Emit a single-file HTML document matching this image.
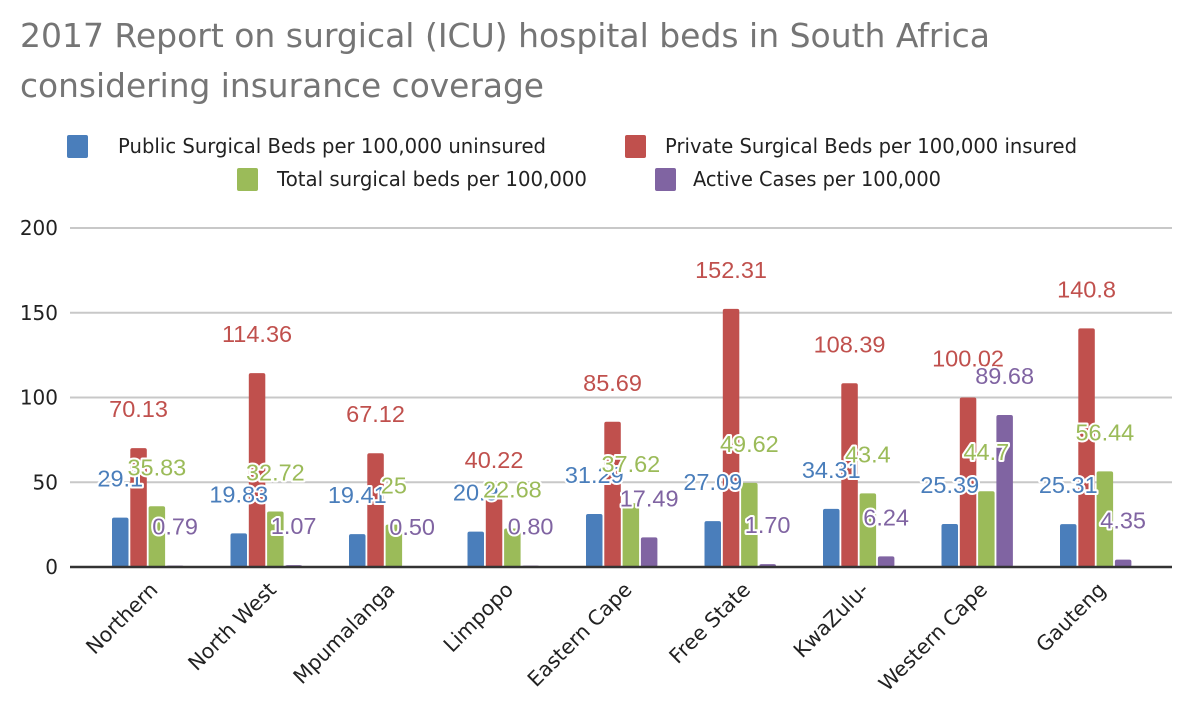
<!DOCTYPE html>
<html><head><meta charset="utf-8"><style>
body{margin:0;background:#fff;}
svg text{font-family:"Liberation Sans",sans-serif;}
.t{font-family:"DejaVu Sans","Liberation Sans",sans-serif;}
</style></head><body>
<svg id="c" width="1200" height="711" viewBox="0 0 1200 711" xmlns="http://www.w3.org/2000/svg">
<text x="20" y="47" font-size="33" fill="#757575" class="t" textLength="970" lengthAdjust="spacingAndGlyphs">2017 Report on surgical (ICU) hospital beds in South Africa</text>
<text x="20" y="97" font-size="33" fill="#757575" class="t" textLength="524" lengthAdjust="spacingAndGlyphs">considering insurance coverage</text>
<g id="legend"></g>
<g id="grid"></g>
<g id="bars"></g>
<g id="labels"></g>
<g id="xl"></g>
</svg>
<script>
const categories=["Northern","North West","Mpumalanga","Limpopo","Eastern Cape","Free State","KwaZulu-","Western Cape","Gauteng"];
const publicBeds=[29.1,19.83,19.41,20.9,31.29,27.09,34.31,25.39,25.31];
const privateBeds=[70.13,114.36,67.12,40.22,85.69,152.31,108.39,100.02,140.8];
const totalBeds=[35.83,32.72,25,22.68,37.62,49.62,43.4,44.7,56.44];
const activeCases=[0.79,1.07,0.50,0.80,17.49,1.70,6.24,89.68,4.35];
const publicLabels=["29.1","19.83","19.41","20.9","31.29","27.09","34.31","25.39","25.31"];
const privateLabels=["70.13","114.36","67.12","40.22","85.69","152.31","108.39","100.02","140.8"];
const totalLabels=["35.83","32.72","25","22.68","37.62","49.62","43.4","44.7","56.44"];
const activeLabels=["0.79","1.07","0.50","0.80","17.49","1.70","6.24","89.68","4.35"];
const yTicks=[0,50,100,150,200];
const seriesNames=["Public Surgical Beds per 100,000 uninsured","Private Surgical Beds per 100,000 insured","Total surgical beds per 100,000","Active Cases per 100,000"];
const colors=["#4a7ebb","#c0504d","#9bbb59","#8064a2"];
const labelColors=["#4a7ebb","#c0504d","#9bbb59","#8064a2"];
const NS="http://www.w3.org/2000/svg";
const y0=567,yTop=228,xL=70,xR=1172;
const y=v=>y0-(v/200)*(y0-yTop);
const groupC=i=>148+i*118.5;
const bw=16.5,gap=1.8;
function mk(tag,attrs,parent){const e=document.createElementNS(NS,tag);for(const k in attrs)e.setAttribute(k,attrs[k]);parent.appendChild(e);return e;}
const grid=document.getElementById('grid');
yTicks.forEach(t=>{
  if(t>0){const l=mk('line',{x1:xL,x2:xR,y1:y(t),y2:y(t),stroke:'#c8c8c8','stroke-width':2},grid);
  
  }
  const tx=mk('text',{x:58,y:y(t)+7,'text-anchor':'end','font-size':20,fill:'#222'},grid);
  tx.setAttribute('class','t');
  tx.textContent=t;
  
  
});
const series=[publicBeds,privateBeds,totalBeds,activeCases];
const labs=[publicLabels,privateLabels,totalLabels,activeLabels];
const bars=document.getElementById('bars'),lg=document.getElementById('labels');
categories.forEach((c,i)=>{
  series.forEach((s,j)=>{
    const x=groupC(i)-36+j*(bw+gap);
    const top=y(s[i]);
    const r=mk('rect',{x:x,y:top,width:bw,height:Math.max(y0-top,1),fill:colors[j],rx:2},bars);
    
    
    const t=mk('text',{x:x+bw/2,y:top-31,'text-anchor':'middle','font-size':23.5,fill:labelColors[j],stroke:'#fff','stroke-width':4,'paint-order':'stroke','stroke-linejoin':'round'},lg);
    t.textContent=labs[j][i];
    
    
  });
  const xt=mk('text',{'text-anchor':'end','font-size':20.5,fill:'#222',transform:`translate(${groupC(i)+11},${591}) rotate(-45)`},document.getElementById('xl'));
  xt.setAttribute('class','t');
  xt.textContent=c;
  
  
});
mk('line',{x1:xL,x2:xR,y1:y0,y2:y0,stroke:'#333','stroke-width':2.5},bars);
const leg=document.getElementById('legend');
const lp=[[67,146,118,428],[625,146,665,412],[237,179,277,310],[655,179,693,248]];
seriesNames.forEach((n,j)=>{
  const r=mk('rect',{x:lp[j][0],y:lp[j][1]-11,width:21,height:23,fill:colors[j],rx:2},leg);
  
  
  const t=mk('text',{x:lp[j][2],y:lp[j][1]+7,'font-size':20,fill:'#222',textLength:lp[j][3],lengthAdjust:'spacingAndGlyphs'},leg);
  t.setAttribute('class','t');
  t.textContent=n;
  
  
});
</script>
</body></html>
